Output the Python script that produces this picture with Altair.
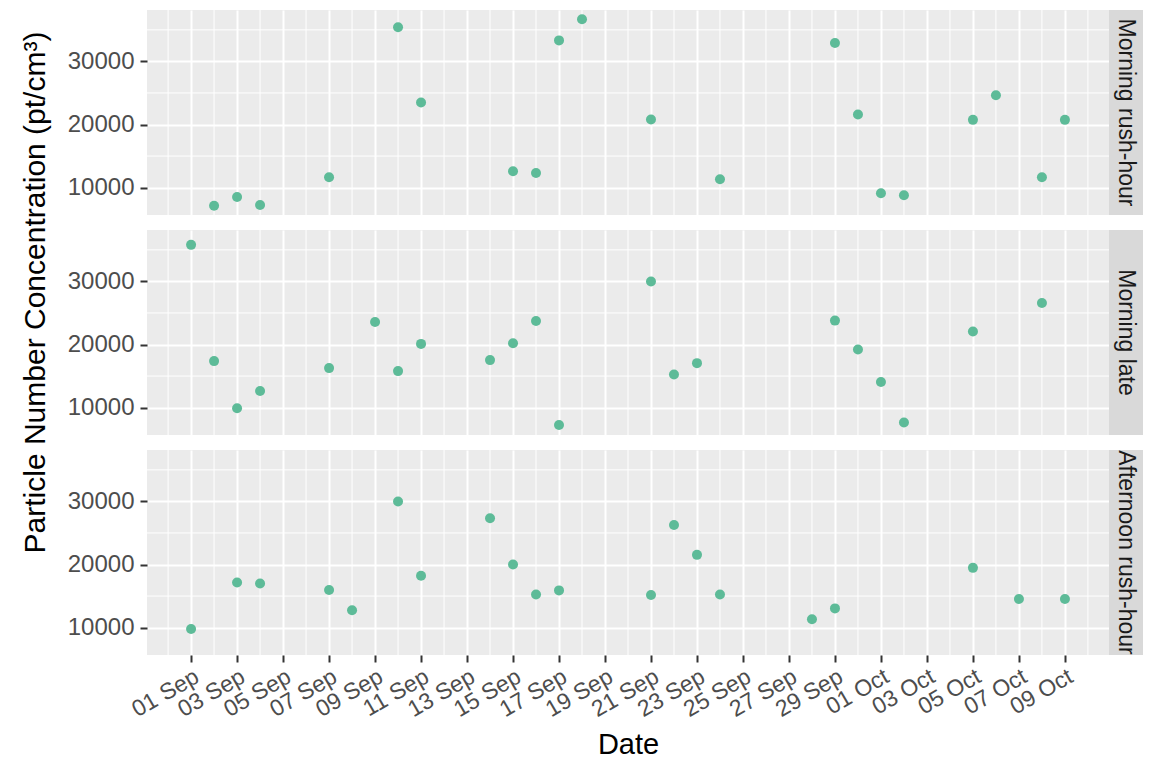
import altair as alt
import pandas as pd

YEAR = "2020"
facet_labels = ["Morning rush-hour", "Morning late", "Afternoon rush-hour"]

mr_dates = ["09-02", "09-03", "09-04", "09-07", "09-10", "09-11", "09-15", "09-16", "09-17", "09-18",
            "09-21", "09-24", "09-29", "09-30", "10-01", "10-02", "10-05", "10-06", "10-08", "10-09"]
mr_values = [7140, 8520, 7250, 11640, 35400, 23490, 12590, 12330, 33330, 36670,
             20790, 11320, 32910, 21590, 9100, 8780, 20740, 24650, 11640, 20740]

ml_dates = ["09-01", "09-02", "09-03", "09-04", "09-07", "09-09", "09-10", "09-11", "09-14", "09-15",
            "09-16", "09-17", "09-21", "09-22", "09-23", "09-29", "09-30", "10-01", "10-02", "10-05", "10-08"]
ml_values = [35790, 17370, 9890, 12630, 16260, 23580, 15790, 20100, 17530, 20210,
             23730, 7260, 30000, 15260, 17050, 23790, 19210, 14060, 7630, 22050, 26580]

ar_dates = ["09-01", "09-03", "09-04", "09-07", "09-08", "09-10", "09-11", "09-14", "09-15", "09-16",
            "09-17", "09-21", "09-22", "09-23", "09-24", "09-28", "09-29", "10-05", "10-07", "10-09"]
ar_values = [9790, 17160, 17000, 15950, 12740, 30000, 18210, 27320, 20000, 15260,
             15900, 15160, 26260, 21530, 15260, 11320, 13050, 19470, 14530, 14530]

major_x = ["09-01", "09-03", "09-05", "09-07", "09-09", "09-11", "09-13", "09-15", "09-17", "09-19",
           "09-21", "09-23", "09-25", "09-27", "09-29", "10-01", "10-03", "10-05", "10-07", "10-09"]
minor_x = ["08-31", "09-02", "09-04", "09-06", "09-08", "09-10", "09-12", "09-14", "09-16", "09-18",
           "09-20", "09-22", "09-24", "09-26", "09-28", "09-30", "10-02", "10-04", "10-06", "10-08", "10-10"]
y_ticks = [10000, 20000, 30000]
y_minor = [15000, 25000, 35000]
x_domain = ["08-30T02:00", "10-10T22:00"]
y_domain = [5663, 38147]

W, H, STRIP_W = 962, 205, 34
POINT_COLOR = "#5DBB98"
FONT = "Liberation Sans"


def iso(md):
    return f"{YEAR}-{md}" + ("" if "T" in md else "T00:00") + ":00"


def dt(md):
    t = pd.Timestamp(iso(md))
    return alt.DateTime(year=t.year, month=t.month, date=t.day, hours=t.hour, minutes=t.minute)


xscale = alt.Scale(domain=[dt(d) for d in x_domain], nice=False)
yscale = alt.Scale(domain=y_domain, nice=False, zero=False)
major_dt = [dt(d) for d in major_x]

grid_common = dict(grid=True, gridColor="white", gridWidth=2, domain=False)


def x_axis(bottom):
    if bottom:
        return alt.Axis(values=major_dt, format="%d %b", labelAngle=-30, labelAlign="right",
                        labelBaseline="top", labelFontSize=23, labelColor="#4D4D4D",
                        labelOverlap=False, labelFlush=False, labelPadding=3,
                        tickSize=7, tickColor="#333333", tickWidth=2,
                        title="Date", titleFontSize=29, titleColor="black",
                        titleFontWeight="normal", titlePadding=9, **grid_common)
    return alt.Axis(values=major_dt, labels=False, ticks=False, title="", **grid_common)


def y_axis(with_title):
    kw = dict(values=y_ticks, format="d", labelFontSize=24, labelColor="#4D4D4D", labelPadding=6,
              tickSize=7, tickColor="#333333", tickWidth=2, **grid_common)
    if with_title:
        return alt.Axis(title="Particle Number Concentration  (pt/cm³)", titleFontSize=30,
                        titleColor="black", titleFontWeight="normal", titlePadding=17, titleY=62, **kw)
    return alt.Axis(title="", **kw)


def panel(dates, values, bottom, with_title):
    xa = x_axis(bottom)
    ya = y_axis(with_title)
    pts = pd.DataFrame({"date": [iso(d) for d in dates], "value": values})
    vminor = pd.DataFrame({"date": [iso(d) for d in minor_x]})
    hminor = pd.DataFrame({"value": y_minor})
    vr = alt.Chart(vminor).mark_rule(color="white", strokeWidth=1, clip=True).encode(
        x=alt.X("date:T", scale=xscale, axis=xa))
    hr = alt.Chart(hminor).mark_rule(color="white", strokeWidth=1, clip=True).encode(
        y=alt.Y("value:Q", scale=yscale, axis=ya))
    pt = alt.Chart(pts).mark_circle(size=100, opacity=1, color=POINT_COLOR).encode(
        x=alt.X("date:T", scale=xscale, axis=xa),
        y=alt.Y("value:Q", scale=yscale, axis=ya))
    return alt.layer(vr, hr, pt).properties(width=W, height=H)


def strip(label):
    df = pd.DataFrame({"label": [label]})
    bg = alt.Chart(df).mark_rect(color="#D9D9D9").encode(
        x=alt.value(0), x2=alt.value(STRIP_W), y=alt.value(0), y2=alt.value(H))
    tx = alt.Chart(df).mark_text(angle=90, fontSize=23, color="#1A1A1A", clip=True,
                                 align="center", baseline="middle").encode(
        x=alt.value(17), y=alt.value(H / 2), text="label:N")
    return alt.layer(bg, tx).properties(width=STRIP_W, height=H)


chart = alt.concat(
    panel(mr_dates, mr_values, False, False), strip(facet_labels[0]),
    panel(ml_dates, ml_values, False, True), strip(facet_labels[1]),
    panel(ar_dates, ar_values, True, False), strip(facet_labels[2]),
    columns=2, spacing=alt.RowColnumber(row=15, column=0), bounds="flush",
).properties(
    padding={"left": 12, "top": 2, "right": 0, "bottom": 0},
    background="white",
).configure(
    font=FONT,
    view=alt.ViewConfig(fill="#EBEBEB", strokeWidth=0),
)

chart.save("out.html", embed_options={"renderer": "svg", "actions": False})
